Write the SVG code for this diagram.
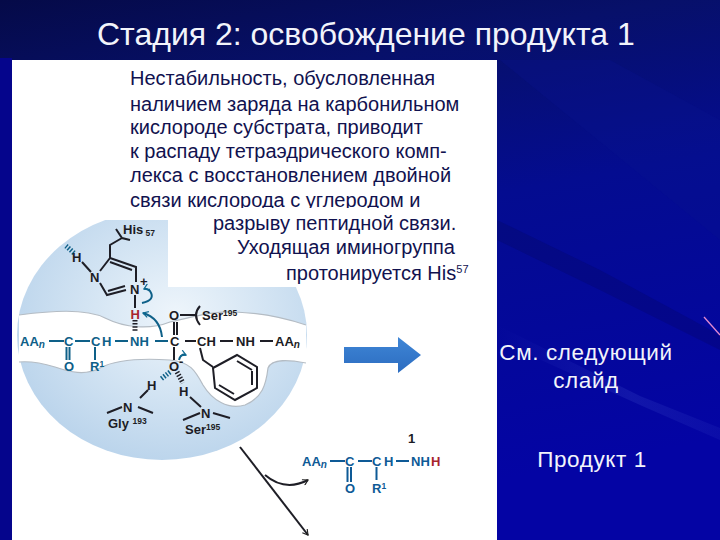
<svg xmlns="http://www.w3.org/2000/svg" width="720" height="540" viewBox="0 0 720 540">
<defs>
<linearGradient id="bg" x1="0" y1="0" x2="0.25" y2="1"><stop offset="0" stop-color="#050a48"/><stop offset="0.22" stop-color="#07106a"/><stop offset="0.5" stop-color="#040c90"/><stop offset="1" stop-color="#0404a4"/></linearGradient>
<linearGradient id="strk" x1="0" y1="0" x2="1" y2="0"><stop offset="0" stop-color="#3a48c8" stop-opacity="0"/><stop offset="0.6" stop-color="#3a48c8" stop-opacity="0.55"/><stop offset="1" stop-color="#3a48c8" stop-opacity="0.3"/></linearGradient>
<radialGradient id="disc" cx="0.55" cy="0.42" r="0.62"><stop offset="0" stop-color="#eef5fb"/><stop offset="0.45" stop-color="#d6e6f4"/><stop offset="1" stop-color="#b9d3eb"/></radialGradient>
<linearGradient id="arrowFill" x1="0" y1="0" x2="0" y2="1"><stop offset="0" stop-color="#3f86d6"/><stop offset="1" stop-color="#2c6cc0"/></linearGradient>
<clipPath id="cut"><rect x="12" y="60" width="485" height="148"/></clipPath>
<marker id="tip" viewBox="0 0 8 8" refX="7" refY="4" markerWidth="7" markerHeight="7" markerUnits="userSpaceOnUse" orient="auto"><path d="M1 0.5L7 4L1 7.5" fill="none" stroke="#222" stroke-width="1.3"/></marker>
<marker id="tipB" viewBox="0 0 8 8" refX="7" refY="4" markerWidth="7" markerHeight="7" markerUnits="userSpaceOnUse" orient="auto"><path d="M1 0.5L7 4L1 7.5" fill="none" stroke="#0f6a92" stroke-width="1.4"/></marker>
</defs>
<style>
text{font-family:"Liberation Sans",Arial,sans-serif}
.wt{fill:#f2f4fb}
.b{fill:#11124f;font-size:20px}
.k{fill:#1c1c24;font-size:13px;font-weight:700}
.t{fill:#0e6088;font-size:13px;font-weight:700}
.u{fill:#0e5a96;font-size:13px;font-weight:700}
.r{fill:#a8242c;font-size:13px;font-weight:700}
.s{font-size:8.500px}
.lk{stroke:#1e1e26;stroke-width:2;fill:none}
.lt{stroke:#0e6088;stroke-width:2;fill:none}
.lu{stroke:#0e5a96;stroke-width:2;fill:none}
.h{stroke-width:5;stroke-dasharray:1.5 1.6;fill:none}
.gap{stroke:#b4bcc4;stroke-width:1.2;fill:none}
</style>

<g id="background">
<rect width="720" height="540" fill="url(#bg)"/>
<path d="M497 340L640 405L720 440L720 428L640 396L497 325Z" fill="url(#strk)" opacity=".45"/>
<path d="M497 240L600 290L720 350L720 335L600 270L497 220Z" fill="#03063e" opacity=".18"/>
<path d="M500 60L720 240L720 120L610 60Z" fill="#0a1590" opacity=".3"/>
<path d="M704 317L720 335" stroke="#e58ad0" stroke-width="1.3"/>
<rect x="0" y="58" width="12" height="482" fill="#05058c"/>
</g>

<g id="panel">
<rect x="12" y="60" width="485" height="480" fill="#ffffff"/>
</g>

<g id="enzyme">
<ellipse cx="162" cy="335" rx="145" ry="125" fill="url(#disc)"/>
<path d="M19 315C50 311 85 308 105 318C125 328 150 330 170 322C190 318 210 311 235 312C260 313 285 318 306 325L306 363C290 360 272 358 268 368C266 385 262 398 245 405C228 410 212 400 203 385C195 370 190 362 170 360C140 358 115 360 100 368C85 376 70 372 55 367C42 363 30 361 19 362Z" fill="#fff"/>
<path class="gap" d="M19 315C50 311 85 308 105 318C125 328 150 330 170 322C190 318 210 311 235 312C260 313 285 318 306 325"/>
<path class="gap" d="M306 363C290 360 272 358 268 368C266 385 262 398 245 405C228 410 212 400 203 385C195 370 190 362 170 360C140 358 115 360 100 368C85 376 70 372 55 367C42 363 30 361 19 362"/>
<rect x="168" y="205" width="145" height="82" fill="#fff"/>
<rect x="12" y="205" width="156" height="15" fill="#fff"/>
</g>

<g id="title"><text class="wt" x="97" y="45" font-size="32">Стадия 2: освобождение продукта 1</text></g>

<g id="explanation">
<text class="b" x="130" y="85">Нестабильность, обусловленная</text>
<text class="b" x="130" y="111">наличием заряда на карбонильном</text>
<text class="b" x="130" y="134">кислороде субстрата, приводит</text>
<text class="b" x="130" y="158">к распаду тетраэдрического комп-</text>
<text class="b" x="130" y="182">лекса с восстановлением двойной</text>
<text class="b" x="130" y="207" clip-path="url(#cut)">связи кислорода с углеродом и</text>
<text class="b" x="213" y="230">разрыву пептидной связи.</text>
<text class="b" x="237" y="254">Уходящая иминогруппа</text>
<text class="b" x="286" y="280">протонируется His<tspan font-size="11" dy="-7">57</tspan></text>
</g>

<g id="connectors">
<g class="lk">
<path d="M116 229L122 238L130 240M122 238L110 245V258L136 267V282M110 262L132 270M100 271L110 258M82 262L91 272M100 283L107 295L126 290M108 291L125 286M135 295V308"/>
<path d="M174 335V322M177 335V322M180 315H195M200 306Q192 315 200 325M200 348L203 360L213 367"/>
<path d="M185 341H196M220 341H233M260 341H273"/>
<path d="M213 368L237 355L257 367V388L235 400L215 388ZM237 361L252 370M252 371V385M234 394L219 385"/>
<path d="M148 390L140 398M107 413L122 407M138 407L153 413M190 397L201 407M183 420L200 413M213 413L230 418"/>
<path d="M174 347V360"/>
<path d="M240 447L308 535" marker-end="url(#tip)"/>
<path d="M265 475Q285 492 308 480" marker-end="url(#tip)"/>
</g>
<g class="lt">
<path d="M49 341H64M75 341H90M115 341H128M155 341H168M66.500 347V360M69.500 347V360M95 347V360"/>
<path d="M162 337Q160 318 143 313" marker-end="url(#tipB)"/>
<path d="M142 303Q156 300 150 291Q146 288 144 289" marker-end="url(#tipB)"/>
<path d="M179 360Q181 353 186 355" marker-end="url(#tipB)"/>
</g>
<g class="lu"><path d="M330 461H345M358 461H372M396 461H409M347.500 467V482M351 467V482M376.500 467V480"/></g>
<path class="h" d="M135 320V332" stroke="#1e1e26"/>
<path class="h" d="M74 253L66 246" stroke="#0e6088"/>
<path class="h" d="M170 372L161 379" stroke="#0e6088"/>
<path class="h" d="M177 372L183 383" stroke="#1e1e26"/>
</g>

<g id="transition-state">
<text class="k" x="123" y="234">His<tspan class="s" dy="2"> 57</tspan></text>
<text class="k" x="72" y="262">H</text><text class="k" x="90" y="282">N</text>
<text class="k" x="130" y="294">N</text><text class="k" x="140" y="286" font-size="11">+</text>
<text class="r" x="130.500" y="319">H</text>
<text class="t" x="20" y="346">AA<tspan font-style="italic" font-size="10" dy="2">n</tspan></text>
<text class="t" x="64" y="346">C</text><text class="t" x="91" y="346">C</text><text class="t" x="102" y="346">H</text><text class="t" x="130" y="346">NH</text>
<text class="t" x="64" y="371">O</text><text class="t" x="90" y="371">R<tspan class="s" dy="-4">1</tspan></text>
<text class="k" x="170" y="346">C</text><text class="k" x="197" y="346">CH</text><text class="k" x="236" y="346">NH</text>
<text class="k" x="275" y="346">AA<tspan font-style="italic" font-size="10" dy="2">n</tspan></text>
<text class="k" x="169" y="320">O</text><text class="k" x="202" y="320">Ser<tspan class="s" dy="-4">195</tspan></text>
<text class="k" x="169" y="371">O</text><text class="k" x="179" y="366" font-size="10">-</text>
<text class="k" x="147" y="390">H</text><text class="k" x="123" y="412">N</text>
<text class="k" x="108" y="428">Gly <tspan class="s" dy="-4">193</tspan></text>
<text class="k" x="179" y="396">H</text><text class="k" x="201" y="418">N</text>
<text class="k" x="185" y="434">Ser<tspan class="s" dy="-4">195</tspan></text>
</g>

<g id="product">
<text class="k" x="408" y="443" font-size="14">1</text>
<text class="u" x="302" y="466">AA<tspan font-style="italic" font-size="10" dy="2">n</tspan></text>
<text class="u" x="345" y="466">C</text><text class="u" x="372" y="466">C</text><text class="u" x="384" y="466">H</text><text class="u" x="411" y="466">NH</text>
<text class="r" x="431" y="466">H</text>
<text class="u" x="345" y="493">O</text><text class="u" x="372" y="493">R<tspan class="s" dy="-4">1</tspan></text>
</g>

<g id="block-arrow"><path d="M344 347H398V337L421 355L398 373V363H344Z" fill="url(#arrowFill)"/></g>

<g id="notes">
<text class="wt" x="586" y="360" font-size="22.500" text-anchor="middle" letter-spacing=".6">См. следующий</text>
<text class="wt" x="586" y="388" font-size="22.500" text-anchor="middle" letter-spacing=".6">слайд</text>
<text class="wt" x="592" y="467" font-size="22.500" text-anchor="middle" letter-spacing=".6">Продукт 1</text>
</g>
</svg>
